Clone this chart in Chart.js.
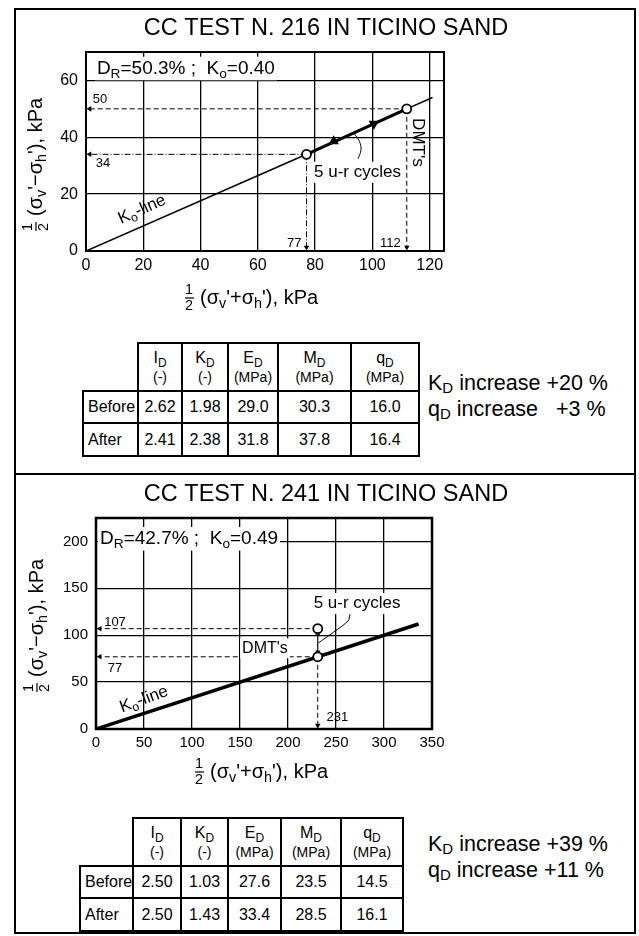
<!DOCTYPE html>
<html>
<head>
<meta charset="utf-8">
<title>CC tests in Ticino sand</title>
<script src="https://cdn.jsdelivr.net/npm/chart.js@4.4.1/dist/chart.umd.min.js"></script>
<style>
  body { margin: 0; background: #fff; }
  #page { position: relative; width: 639px; height: 936px; overflow: hidden; font-family: 'Liberation Sans', Arial, Helvetica, sans-serif; color: #000; }
  #frame { position: absolute; left: 14px; top: 8px; width: 618px; height: 922px; border: 2px solid #000; }
  #divider { position: absolute; left: 14px; top: 473px; width: 622px; height: 2px; background: #000; }
  canvas { position: absolute; left: 16px; }
  #c216 { top: 10px; }
  #c241 { top: 477px; }
  table.dmt { position: absolute; border-collapse: collapse; table-layout: fixed; }
  table.dmt td { border: 2px solid #000; text-align: center; vertical-align: middle; padding: 0; font-size: 16px; line-height: 18px; }
  table.dmt td.blank { border-top: none; border-left: none; }
  table.dmt td.lab { text-align: left; padding-left: 4px; }
  table.dmt .u { font-size: 14px; }
  .sb { font-size: 12px; position: relative; top: 4px; }
  .note { position: absolute; left: 428px; font-size: 21.5px; line-height: 24px; white-space: pre; }
  .note .sb { font-size: 15px; top: 3px; }
</style>
</head>
<body>
<div id="page">
  <div id="frame"></div>
  <div id="divider"></div>
  <canvas id="c216" width="618" height="305"></canvas>
  <table class="dmt" id="t216"></table>
  <div class="note" id="n216"></div>
  <canvas id="c241" width="618" height="310"></canvas>
  <table class="dmt" id="t241"></table>
  <div class="note" id="n241"></div>
</div>
<script>
var FONT = "'Liberation Sans', Arial, Helvetica, sans-serif";

// ---- CC test 216 ----
var dmtP216 = [77, 112];
var dmtQ216 = [34, 50];
var koLineP216 = [0, 77, 112, 121];
var koLineQ216 = [0, 34, 50, 54];
var cycleP216 = [86.5, 100.5];
var cycleQ216 = [38.6, 44.8];
var leaderP216 = [95, 96, 95.5, 93.5];
var leaderQ216 = [32.5, 35.5, 38.5, 41.5];
var xTicks216 = [0, 20, 40, 60, 80, 100, 120];
var yTicks216 = [0, 20, 40, 60];
var before216 = [2.62, 1.98, 29.0, 30.3, 16.0];
var after216 = [2.41, 2.38, 31.8, 37.8, 16.4];
var increase216 = [20, 3];

// ---- CC test 241 ----
var dmtP241 = [231, 231];
var dmtQ241 = [77, 107];
var koLineP241 = [0, 336];
var koLineQ241 = [0, 112];
var leaderP241 = [265, 262.5, 232];
var leaderQ241 = [124.5, 115, 92];
var xTicks241 = [0, 50, 100, 150, 200, 250, 300, 350];
var yTicks241 = [0, 50, 100, 150, 200];
var before241 = [2.50, 1.03, 27.6, 23.5, 14.5];
var after241 = [2.50, 1.43, 33.4, 28.5, 16.1];
var increase241 = [39, 11];

// table columns
var paramNames = ['I', 'K', 'E', 'M', 'q'];
var paramUnits = ['(-)', '(-)', '(MPa)', '(MPa)', '(MPa)'];
var paramDecimals = [2, 2, 1, 1, 1];

Chart.defaults.font.family = FONT;
Chart.defaults.color = '#000';

function pts(p, q) {
    return p.map(function (v, i) { return { x: v, y: q[i] }; });
}

// "_x" marks a subscript character
function rich(text) {
    var segs = [], i;
    for (i = 0; i < text.length; i++) {
        if (text[i] === '_') {
            segs.push({ t: text[i + 1], sub: true });
            i++;
        } else if (segs.length && !segs[segs.length - 1].sub) {
            segs[segs.length - 1].t += text[i];
        } else {
            segs.push({ t: text[i], sub: false });
        }
    }
    return segs;
}

function drawRich(ctx, segs, x, y, size, align, bg) {
    var w = 0;
    segs.forEach(function (s) {
        ctx.font = (s.sub ? size * 0.72 : size) + 'px ' + FONT;
        s.w = ctx.measureText(s.t).width;
        w += s.w;
    });
    var x0 = align === 'center' ? x - w / 2 : x;
    if (bg) {
        ctx.fillStyle = '#fff';
        ctx.fillRect(x0 - 2, y - size * 0.62, w + 4, size * 1.24);
    }
    ctx.fillStyle = '#000';
    ctx.textAlign = 'left';
    ctx.textBaseline = 'middle';
    segs.forEach(function (s) {
        ctx.font = (s.sub ? size * 0.72 : size) + 'px ' + FONT;
        ctx.fillText(s.t, x0, y + (s.sub ? size * 0.28 : 0));
        x0 += s.w;
    });
}

// 1/2 stacked fraction then the text, x = left edge, y = middle
function drawAxisTitle(ctx, text, x, y, size) {
    ctx.fillStyle = '#000';
    ctx.font = (size * 0.72) + 'px ' + FONT;
    ctx.textAlign = 'center';
    ctx.textBaseline = 'middle';
    ctx.fillText('1', x + 4, y - 7.5);
    ctx.fillText('2', x + 4, y + 8.5);
    ctx.beginPath();
    ctx.lineWidth = 1.2;
    ctx.strokeStyle = '#000';
    ctx.moveTo(x, y);
    ctx.lineTo(x + 9, y);
    ctx.stroke();
    drawRich(ctx, rich(text), x + 15, y, size, 'left', false);
}

function notesPlugin(spec) {
    return {
        id: 'notes',
        afterDatasetsDraw: function (chart) {
            var ctx = chart.ctx, a = chart.chartArea, sx = chart.scales.x, sy = chart.scales.y;
            ctx.save();
            ctx.strokeStyle = '#000';
            ctx.lineWidth = spec.frameWidth;
            ctx.strokeRect(a.left, a.top, a.right - a.left, a.bottom - a.top);

            spec.notes.forEach(function (n) {
                ctx.save();
                ctx.translate(sx.getPixelForValue(n.x), sy.getPixelForValue(n.y));
                if (n.rot) {
                    ctx.rotate(n.rot * Math.PI / 180);
                }
                drawRich(ctx, rich(n.text), 0, 0, n.size, n.align || 'center', n.bg);
                ctx.restore();
            });

            ctx.fillStyle = '#000';
            ctx.font = spec.titleSize + 'px ' + FONT;
            ctx.textAlign = 'center';
            ctx.textBaseline = 'middle';
            ctx.fillText(spec.title, spec.titlePos[0], spec.titlePos[1]);

            drawAxisTitle(ctx, "(σ_v'+σ_h'), kPa", spec.xTitlePos[0], spec.xTitlePos[1], 20);
            ctx.save();
            ctx.translate(spec.yTitlePos[0], spec.yTitlePos[1]);
            ctx.rotate(-Math.PI / 2);
            drawAxisTitle(ctx, "(σ_v'−σ_h'), kPa", 0, 0, 20);
            ctx.restore();
            ctx.restore();
        }
    };
}

function arrowLine(data, radii, rots, dash, width) {
    return {
        data: data,
        showLine: true,
        borderColor: '#000',
        borderWidth: width || 1,
        borderDash: dash,
        tension: 0,
        pointStyle: 'triangle',
        pointRadius: radii,
        pointRotation: rots,
        pointBackgroundColor: '#000',
        pointBorderColor: '#000',
        pointBorderWidth: 0,
        clip: false
    };
}

function axis(ticks, max, size, pad, fit) {
    return {
        type: 'linear',
        min: 0,
        max: max,
        afterBuildTicks: function (s) {
            s.ticks = ticks.map(function (v) { return { value: v }; });
        },
        ticks: { font: { size: size }, padding: pad, color: '#000', maxRotation: 0, autoSkip: false },
        grid: { color: '#000', lineWidth: 1.3, drawTicks: false },
        border: { color: '#000', width: 2 },
        afterFit: fit
    };
}

function makeChart(id, spec) {
    return new Chart(document.getElementById(id), {
        type: 'scatter',
        data: { datasets: spec.datasets },
        options: {
            responsive: false,
            animation: false,
            events: [],
            layout: { padding: spec.padding },
            plugins: { legend: { display: false }, tooltip: { enabled: false } },
            scales: {
                x: axis(spec.xTicks, spec.xMax, spec.tickSize, 5, function (s) { s.height = spec.xHeight; }),
                y: axis(spec.yTicks, spec.yMax, spec.tickSize, 8, function (s) { s.width = spec.yWidth; })
            }
        },
        plugins: [notesPlugin(spec)]
    });
}

function circles(p, q) {
    return {
        data: pts(p, q),
        pointRadius: 4.5,
        pointBackgroundColor: '#fff',
        pointBorderColor: '#000',
        pointBorderWidth: 1.8,
        clip: false
    };
}

// ---- chart 216 ----
var sets216 = [circles(dmtP216, dmtQ216)];
sets216.push({
    data: pts(cycleP216, cycleQ216),
    pointStyle: 'triangle',
    pointRadius: 6,
    pointRotation: [0, 180],
    pointBackgroundColor: '#000',
    pointBorderWidth: 0
});
sets216.push({
    data: pts(koLineP216, koLineQ216),
    showLine: true,
    borderColor: '#000',
    pointRadius: 0,
    segment: { borderWidth: function (c) { return c.p0DataIndex === 1 ? 3.2 : 1.6; } }
});
dmtP216.forEach(function (p, i) {
    var dash = i === 0 ? [6, 2, 1, 2] : [5, 3];
    sets216.push(arrowLine([{ x: p, y: dmtQ216[i] }, { x: 1.3, y: dmtQ216[i] }], [0, 3.2], [0, 270], dash));
    sets216.push(arrowLine([{ x: p, y: dmtQ216[i] }, { x: p, y: 1.3 }], [0, 3.2], [0, 180], dash));
});
sets216.push({
    data: pts(leaderP216, leaderQ216),
    showLine: true, borderColor: '#000', borderWidth: 1, tension: 0.4, pointRadius: 0
});

makeChart('c216', {
    datasets: sets216,
    xTicks: xTicks216, yTicks: yTicks216, xMax: 125, yMax: 70,
    tickSize: 16, padding: { left: 0, top: 42, right: 190, bottom: 0 },
    xHeight: 64, yWidth: 70, frameWidth: 2,
    title: 'CC TEST N. 216 IN TICINO SAND', titleSize: 23.5, titlePos: [310, 19],
    xTitlePos: [169, 288], yTitlePos: [20, 221],
    notes: [
        { text: 'D_R=50.3% ;  K_o=0.40', x: 3.8, y: 64.2, size: 19, align: 'left', bg: true },
        { text: 'K_o-line', x: 19.6, y: 14.6, size: 17, rot: -24 },
        { text: '5 u-r cycles', x: 94.8, y: 27.7, size: 17, bg: true },
        { text: "DMT's", x: 115.7, y: 38.2, size: 17, rot: 90 },
        { text: String(dmtQ216[1]), x: 4.9, y: 53.3, size: 13 },
        { text: String(dmtQ216[0]), x: 5.9, y: 30.9, size: 13 },
        { text: String(dmtP216[0]), x: 72.7, y: 2.6, size: 13 },
        { text: String(dmtP216[1]), x: 106.3, y: 2.6, size: 13 }
    ]
});

// ---- chart 241 ----
var sets241 = [circles(dmtP241, dmtQ241)];
sets241.push(arrowLine([{ x: dmtP241[1], y: dmtQ241[1] - 5 }, { x: dmtP241[0], y: dmtQ241[0] + 5 }], [3, 3], [0, 180], [], 1.2));
sets241.push({
    data: pts(koLineP241, koLineQ241),
    showLine: true, borderColor: '#000', borderWidth: 3.5, pointRadius: 0
});
dmtP241.forEach(function (p, i) {
    sets241.push(arrowLine([{ x: p, y: dmtQ241[i] }, { x: 4, y: dmtQ241[i] }], [0, 3.2], [0, 270], [5, 3]));
});
sets241.push(arrowLine([{ x: dmtP241[0], y: dmtQ241[0] }, { x: dmtP241[0], y: 4 }], [0, 3.2], [0, 180], [5, 3]));
sets241.push({
    data: pts(leaderP241, leaderQ241),
    showLine: true, borderColor: '#000', borderWidth: 1, tension: 0.2, pointRadius: 0
});

makeChart('c241', {
    datasets: sets241,
    xTicks: xTicks241, yTicks: yTicks241, xMax: 350, yMax: 225,
    tickSize: 15, padding: { left: 0, top: 41, right: 202, bottom: 0 },
    xHeight: 58, yWidth: 80, frameWidth: 2.5,
    title: 'CC TEST N. 241 IN TICINO SAND', titleSize: 23.5, titlePos: [310, 18],
    xTitlePos: [179, 295], yTitlePos: [21, 215],
    notes: [
        { text: 'D_R=42.7% ;  K_o=0.49', x: 4.2, y: 202.8, size: 19, align: 'left', bg: true },
        { text: 'K_o-line', x: 50, y: 31.5, size: 17, rot: -20 },
        { text: '5 u-r cycles', x: 272, y: 133.8, size: 17, bg: true },
        { text: "DMT's", x: 176, y: 86, size: 16, bg: true },
        { text: String(dmtQ241[1]), x: 19.8, y: 113.6, size: 13 },
        { text: String(dmtQ241[0]), x: 19.8, y: 64.8, size: 13 },
        { text: String(dmtP241[0]), x: 251.5, y: 12.7, size: 13 }
    ]
});

// ---- tables and notes ----
function buildTable(id, left, top, widths, rowH, before, after) {
    var t = document.getElementById(id), html = '<colgroup>';
    widths.forEach(function (w) { html += '<col style="width:' + w + 'px">'; });
    html += '</colgroup><tr style="height:' + rowH[0] + 'px"><td class="blank"></td>';
    paramNames.forEach(function (n, i) {
        html += '<td>' + n + '<span class="sb">D</span><br><span class="u">' + paramUnits[i] + '</span></td>';
    });
    html += '</tr>';
    [['Before', before], ['After', after]].forEach(function (r, k) {
        html += '<tr style="height:' + rowH[k + 1] + 'px"><td class="lab">' + r[0] + '</td>';
        r[1].forEach(function (v, i) { html += '<td>' + v.toFixed(paramDecimals[i]) + '</td>'; });
        html += '</tr>';
    });
    t.innerHTML = html;
    t.style.left = left + 'px';
    t.style.top = top + 'px';
    t.style.width = widths.reduce(function (s, w) { return s + w; }, 0) + 'px';
}

function buildNote(id, top, inc, gap) {
    var n = document.getElementById(id);
    n.style.top = top + 'px';
    n.innerHTML = 'K<span class="sb">D</span> increase +' + inc[0] + ' %\n' +
        'q<span class="sb">D</span> increase' + gap + '+' + inc[1] + ' %';
}

buildTable('t216', 82, 342, [55, 44, 46, 50, 73, 68], [48, 32, 33], before216, after216);
buildTable('t241', 79, 817, [53, 48, 47, 53, 60, 62], [48, 32, 33], before241, after241);
buildNote('n216', 371, increase216, '   ');
buildNote('n241', 832, increase241, ' ');
</script>
</body>
</html>
